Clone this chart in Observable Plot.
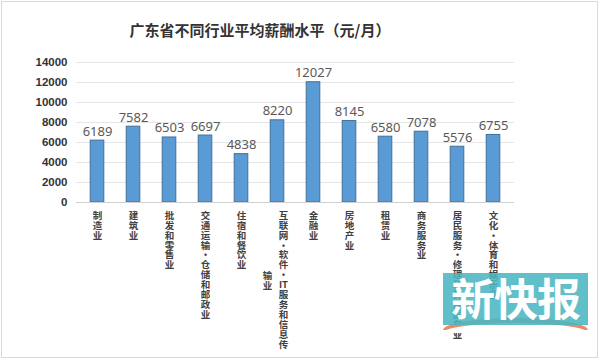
<!DOCTYPE html>
<html><head><meta charset="utf-8">
<script src="https://cdn.jsdelivr.net/npm/d3@7"></script>
<script src="https://cdn.jsdelivr.net/npm/@observablehq/plot@0.6"></script>
<style>
body{margin:0;background:#fff;}
#wrap{position:relative;width:600px;height:360px;overflow:hidden;font-family:"Noto Sans CJK SC","Noto Sans",sans-serif;background:#fff;}
#border{position:absolute;left:1px;top:1px;width:595px;height:355px;border:1px solid #d9d9d9;}
#title{position:absolute;left:0;top:19px;width:520px;text-align:center;font-size:15px;line-height:22px;font-weight:bold;color:#333;}
#chart{position:absolute;left:0;top:0;}
#logo{position:absolute;left:443px;top:273px;width:145px;height:52px;background:rgba(74,182,194,0.88);overflow:hidden;}
#logo span{position:absolute;left:8px;top:-6px;font-size:44px;line-height:60px;font-weight:bold;color:#fff;letter-spacing:-1px;}
#swoosh{position:absolute;left:443px;top:318px;width:145px;height:12px;background:#ea8c62;border-radius:50% 50% 0 0 / 100% 100% 0 0;}
#swoosh2{position:absolute;left:443px;top:323px;width:145px;height:10px;background:#fff;border-radius:50% 50% 0 0 / 100% 100% 0 0;}
</style></head>
<body>
<div id="wrap">
  <div id="border"></div>
  <div id="chart"></div>
  <div id="title">广东省不同行业平均薪酬水平（元/月）</div>
  <div id="swoosh"></div><div id="swoosh2"></div>
  <div id="logo"><span>新快报</span></div>
</div>
<script>
const categories = [
  "制造业",
  "建筑业",
  "批发和零售业",
  "交通运输·仓储和邮政业",
  "住宿和餐饮业",
  "互联网·软件·IT服务和信息传输业",
  "金融业",
  "房地产业",
  "租赁业",
  "商务服务业",
  "居民服务·修理和其他服务业",
  "文化·体育和娱乐业"
];
const values = [6189, 7582, 6503, 6697, 4838, 8220, 12027, 8145, 6580, 7078, 5576, 6755];
const yTicks = [0, 2000, 4000, 6000, 8000, 10000, 12000, 14000];

const maxPerColumn = 14;
const rows = categories.map((c, i) => {
  const tokens = c.match(/IT|./gu);
  return {
    category: c,
    value: values[i],
    col1: tokens.slice(0, maxPerColumn),
    col2: tokens.slice(maxPerColumn)
  };
});
const single = rows.filter(d => d.col2.length === 0);
const split = rows.filter(d => d.col2.length > 0);
const charStep = 10;

const chart = Plot.plot({
  width: 600,
  height: 360,
  marginTop: 62,
  marginBottom: 158,
  marginLeft: 76,
  marginRight: 86,
  style: {background: "transparent", fontFamily: "'Noto Sans CJK SC','Noto Sans',sans-serif"},
  x: {domain: categories, padding: 0, axis: null},
  y: {domain: [0, 14000], ticks: yTicks, axis: null},
  marks: [
    Plot.gridY(yTicks.filter(t => t > 0), {stroke: "#e6e6e6", strokeOpacity: 1}),
    Plot.axisY({ticks: yTicks, tickSize: 0, tickPadding: 9, tickFormat: d => String(d), fontSize: 11.5, fontWeight: "bold", fill: "#333", label: null, fontFamily: "'Liberation Sans',sans-serif"}),
    Plot.barY(rows, {x: "category", y: "value", fill: "#5b9bd5", stroke: "#41719c", strokeWidth: 1, inset: 0, insetLeft: 11.2, insetRight: 11.2}),
    Plot.ruleY([0], {stroke: "#d0d0d0"}),
    Plot.text(rows, {x: "category", y: "value", text: d => String(d.value), lineAnchor: "bottom", dy: -5, fontSize: 13, fill: "#595959", fontFamily: "'Noto Sans',sans-serif"}),
    Plot.text(single, {x: "category", text: d => d.col1.join("\n"), frameAnchor: "bottom", lineAnchor: "top", dy: 9, lineHeight: 1.05, fontSize: 9.5, fill: "#404040", fontWeight: "bold"}),
    Plot.text(split, {x: "category", text: d => d.col1.join("\n"), frameAnchor: "bottom", lineAnchor: "top", dy: 9, dx: 6, lineHeight: 1.05, fontSize: 9.5, fill: "#404040", fontWeight: "bold"}),
    Plot.text(split, {x: "category", text: d => d.col2.join("\n"), frameAnchor: "bottom", lineAnchor: "top", dy: 9 + (maxPerColumn - 2) / 2 * charStep, dx: -10, lineHeight: 1.05, fontSize: 9.5, fill: "#404040", fontWeight: "bold"})
  ]
});
document.getElementById("chart").appendChild(chart);
</script>
</body></html>
